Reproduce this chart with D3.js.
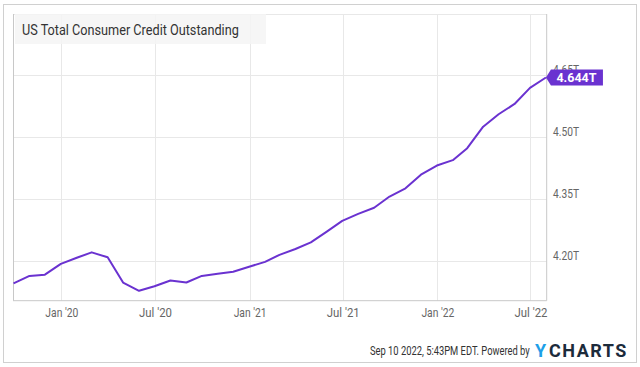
<!DOCTYPE html>
<html>
<head>
<meta charset="utf-8">
<script src="https://cdn.jsdelivr.net/npm/d3@7"></script>
<style>
  html, body { margin: 0; padding: 0; background: #fff; }
  svg { display: block; font-family: Roboto, "Noto Sans", sans-serif; }
</style>
</head>
<body>
<svg id="chart" width="640" height="367"></svg>
<script>
// ---- data ----
const months = [
  "2019-09","2019-10","2019-11","2019-12",
  "2020-01","2020-02","2020-03","2020-04","2020-05","2020-06","2020-07","2020-08","2020-09","2020-10","2020-11","2020-12",
  "2021-01","2021-02","2021-03","2021-04","2021-05","2021-06","2021-07","2021-08","2021-09","2021-10","2021-11","2021-12",
  "2022-01","2022-02","2022-03","2022-04","2022-05","2022-06","2022-07"
];
const values = [
  4.146, 4.164, 4.167, 4.193,
  4.208, 4.221, 4.209, 4.148, 4.128, 4.139, 4.153, 4.148, 4.164, 4.169, 4.174, 4.186,
  4.198, 4.215, 4.229, 4.245, 4.271, 4.297, 4.314, 4.329, 4.356, 4.376, 4.409, 4.431,
  4.444, 4.473, 4.525, 4.555, 4.580, 4.619, 4.644
];
const yTicks = [4.20, 4.35, 4.50, 4.65];
const xTickDates = ["2020-01-01","2020-07-01","2021-01-01","2021-07-01","2022-01-01","2022-07-01"];
const xTickLabels = ["Jan '20","Jul '20","Jan '21","Jul '21","Jan '22","Jul '22"];
const title = "US Total Consumer Credit Outstanding";
const lastLabel = "4.644T";
const footer = "Sep 10 2022, 5:43PM EDT.  Powered by";

// ---- layout ----
const svg = d3.select("#chart");
const L = 13, R = 546.7, T = 14, B = 300.7;
const lineColor = "#6a32d0";

const dates = months.map(m => {
  const [y, mo] = m.split("-").map(Number);
  return new Date(y, mo, 0); // last day of month
});
const data = dates.map((d, i) => ({ date: d, value: values[i] }));

const x = d3.scaleTime()
  .domain([new Date(2019, 8, 29), new Date(2022, 7, 1, 12)])
  .range([L, R]);
const y = d3.scaleLinear()
  .domain([4.104, 4.7976])
  .range([B, T]);

// horizontally condense a text element to width w (keeps real glyph height)
function squeeze(sel, w) {
  sel.each(function() {
    const t = d3.select(this);
    const nat = this.getComputedTextLength();
    const tx = +t.attr("x") || 0, ty = +t.attr("y") || 0;
    const anchor = t.attr("text-anchor") || "start";
    const s = Math.min(1, w / nat);
    t.attr("x", 0).attr("y", 0).attr("dy", t.attr("dy"));
    const prev = t.attr("transform") || "";
    t.attr("transform", `${prev} translate(${tx},${ty}) scale(${s},1)`);
  });
}

// outer border
svg.append("rect").attr("x", 3.5).attr("y", 4.5).attr("width", 633).attr("height", 358)
  .attr("fill", "#fff").attr("stroke", "#d0d0d0");

// gridlines
const grid = svg.append("g");
grid.selectAll("line.h").data(yTicks).enter().append("line")
  .attr("x1", L).attr("x2", R)
  .attr("y1", d => Math.round(y(d)) + 0.5).attr("y2", d => Math.round(y(d)) + 0.5)
  .attr("stroke", "#e8e8e8");
grid.selectAll("line.v").data(xTickDates).enter().append("line")
  .attr("y1", T).attr("y2", B)
  .attr("x1", d => Math.round(x(new Date(d + "T00:00:00"))) + 0.5)
  .attr("x2", d => Math.round(x(new Date(d + "T00:00:00"))) + 0.5)
  .attr("stroke", "#e8e8e8");
svg.append("line").attr("x1", L).attr("x2", R).attr("y1", T + 0.5).attr("y2", T + 0.5).attr("stroke", "#e8e8e8");

// title box and text
svg.append("rect").attr("x", 15).attr("y", 14).attr("width", 251).attr("height", 30)
  .attr("fill", "#f4f4f4").attr("opacity", 0.85);
svg.append("text").attr("x", 22).attr("y", 34.5)
  .attr("font-size", 14.5).attr("fill", "#333")
  .text(title).call(squeeze, 217);

// plot borders
svg.append("line").attr("x1", L + 0.5).attr("x2", L + 0.5).attr("y1", T).attr("y2", B).attr("stroke", "#c8c8c8");
svg.append("line").attr("x1", R).attr("x2", R).attr("y1", T).attr("y2", B).attr("stroke", "#c8c8c8");
svg.append("line").attr("x1", L).attr("x2", R).attr("y1", B).attr("y2", B).attr("stroke", "#c8c8c8");

// y axis labels (sit slightly above their gridlines)
const yAxis = d3.axisRight(y).tickValues(yTicks).tickSize(0).tickPadding(0)
  .tickFormat(d => d3.format(".2f")(d) + "T");
const gy = svg.append("g").attr("transform", `translate(${553},-6)`).call(yAxis);
gy.select(".domain").remove();
gy.selectAll("text").attr("font-size", 12.5).attr("fill", "#666")
  .attr("font-family", "Roboto, sans-serif").call(squeeze, 26);

// x axis labels
const xAxis = d3.axisBottom(x).tickValues(xTickDates.map(d => new Date(d + "T00:00:00")))
  .tickSize(0).tickPadding(0)
  .tickFormat((d, i) => xTickLabels[i]);
const gx = svg.append("g").attr("transform", `translate(0,${308})`).call(xAxis);
gx.select(".domain").remove();
gx.selectAll("text").attr("font-size", 12.5).attr("fill", "#666")
  .attr("font-family", "Roboto, sans-serif").call(squeeze, 33);

// line
const line = d3.line().x(d => x(d.date)).y(d => y(d.value));
svg.append("path").datum(data)
  .attr("d", line).attr("fill", "none")
  .attr("stroke", lineColor).attr("stroke-width", 2)
  .attr("stroke-linejoin", "round");

// last value marker
const last = data[data.length - 1];
const mx = x(last.date), my = y(last.value);
const mh = 16, mw = 52, tip = 5, lw = 41;
const flag = svg.append("g").attr("transform", `translate(${mx},${my})`);
flag.append("path")
  .attr("d", `M0,0 L${tip},${-mh/2} L${tip + mw},${-mh/2} L${tip + mw},${mh/2} L${tip},${mh/2} Z`)
  .attr("fill", lineColor);
flag.append("text").attr("x", tip + (mw - lw) / 2).attr("y", 4.5)
  .attr("font-size", 12.5).attr("font-weight", "bold")
  .attr("fill", "#fff").text(lastLabel).call(squeeze, lw);

// footer
svg.append("text").attr("x", 370).attr("y", 355)
  .attr("font-size", 12).attr("fill", "#333")
  .text(footer).call(squeeze, 160);
svg.append("text").attr("x", 535).attr("y", 357)
  .attr("font-size", 18).attr("font-weight", "bold").attr("fill", "#1e9fe8")
  .text("Y");
svg.append("text").attr("x", 549).attr("y", 357)
  .attr("font-size", 18).attr("font-weight", "bold").attr("fill", "#1c2b3b")
  .attr("letter-spacing", 1.5)
  .text("CHARTS");
</script>
</body>
</html>
